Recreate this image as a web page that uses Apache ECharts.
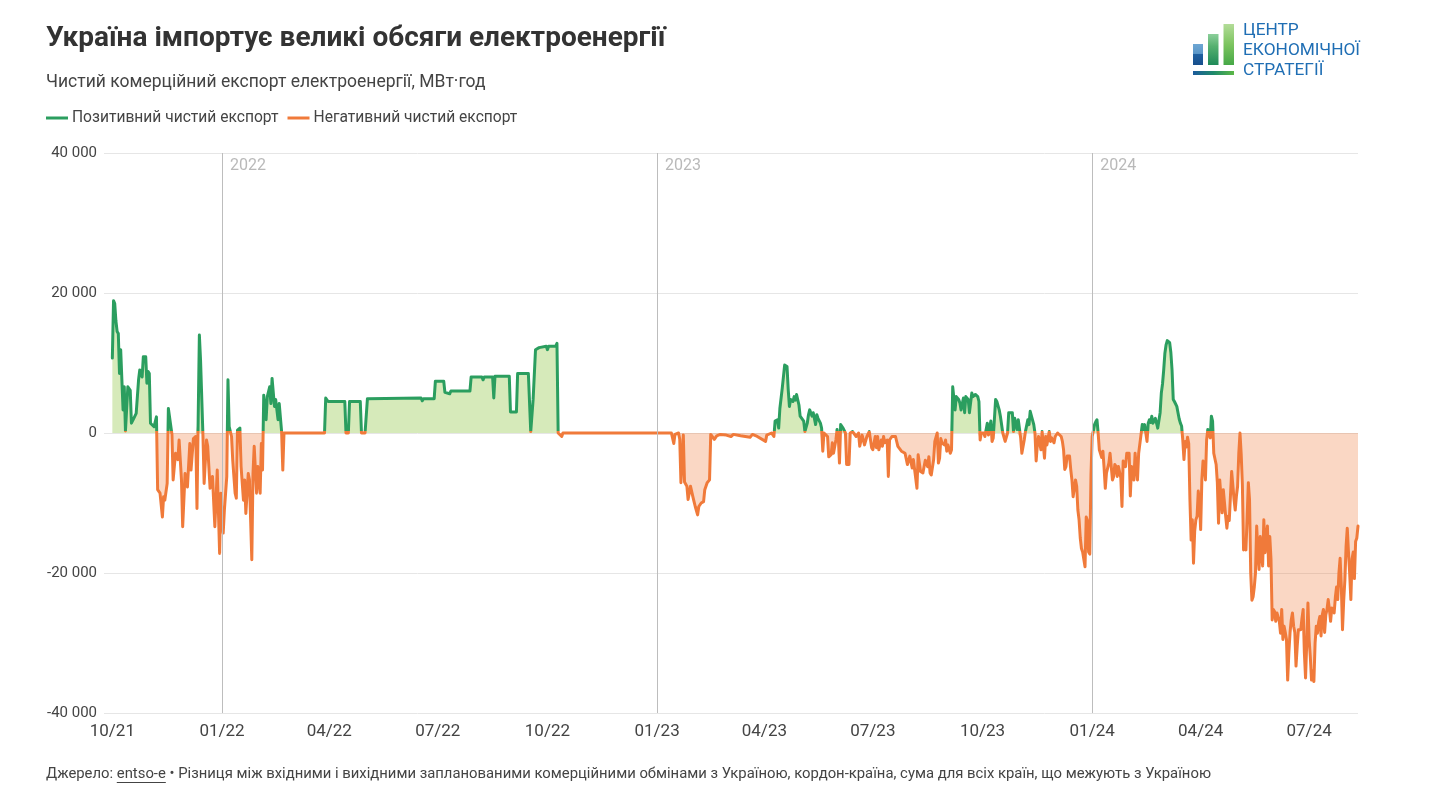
<!DOCTYPE html>
<html><head><meta charset="utf-8">
<script src="https://cdn.jsdelivr.net/npm/echarts@6/dist/echarts.min.js"></script>
<style>html,body{margin:0;padding:0;background:#fff}#chart{width:1430px;height:797px}</style>
</head><body><div id="chart"></div>
<script>
// ---- DATA: daily net commercial export of electricity, MWh ----
const net2021 = [['2021-10-01',10700],['2021-10-02',18900],['2021-10-03',18500],['2021-10-04',16000],['2021-10-05',14500],['2021-10-06',14200],['2021-10-07',8500],['2021-10-08',11900],['2021-10-09',11800],['2021-10-10',3300],['2021-10-11',6600],['2021-10-12',300],['2021-10-14',6600],['2021-10-16',6100],['2021-10-17',1400],['2021-10-19',2100],['2021-10-21',2800],['2021-10-23',7600],['2021-10-24',9000],['2021-10-26',8000],['2021-10-27',10900],['2021-10-29',10900],['2021-10-30',7100],['2021-10-31',8800],['2021-11-01',8500],['2021-11-02',1400],['2021-11-05',900],['2021-11-07',2300],['2021-11-08',-8100],['2021-11-10',-8600],['2021-11-12',-12000],['2021-11-13',-9100],['2021-11-14',-9600],['2021-11-16',-7200],['2021-11-17',3500],['2021-11-18',3300],['2021-11-20',-200],['2021-11-21',-6700],['2021-11-23',-2900],['2021-11-25',-3800],['2021-11-26',-1000],['2021-11-28',-6700],['2021-11-29',-13400],['2021-12-01',-5800],['2021-12-03',-7700],['2021-12-05',-1500],['2021-12-06',-5300],['2021-12-08',-800],['2021-12-10',-500],['2021-12-11',-10800],['2021-12-12',1900],['2021-12-13',14000],['2021-12-14',10400],['2021-12-16',-300],['2021-12-17',-7200],['2021-12-19',-1000],['2021-12-20',-1900],['2021-12-22',-7900],['2021-12-24',-6200],['2021-12-26',-13400],['2021-12-28',-5300],['2021-12-30',-17200],['2021-12-31',-8600]];
const net2022 = [['2022-01-02',-14300],['2022-01-03',-11000],['2022-01-05',-6200],['2022-01-06',7600],['2022-01-07',900],['2022-01-09',-500],['2022-01-10',-3900],['2022-01-12',-8600],['2022-01-13',-9300],['2022-01-14',400],['2022-01-16',700],['2022-01-17',-4800],['2022-01-19',-9600],['2022-01-20',-6700],['2022-01-21',-11500],['2022-01-23',-5800],['2022-01-24',-6700],['2022-01-26',-18100],['2022-01-27',-5800],['2022-01-28',-1900],['2022-01-30',-8600],['2022-01-31',-4800],['2022-02-02',-8600],['2022-02-03',-1500],['2022-02-04',-5300],['2022-02-05',5400],['2022-02-07',1900],['2022-02-08',5200],['2022-02-10',6600],['2022-02-11',4200],['2022-02-12',7800],['2022-02-14',3800],['2022-02-15',4800],['2022-02-17',1900],['2022-02-18',4200],['2022-02-20',200],['2022-02-21',-5300],['2022-02-22',0],['2022-03-28',0],['2022-03-29',5000],['2022-03-30',5200],['2022-03-31',4500],['2022-04-14',4500],['2022-04-15',0],['2022-04-17',0],['2022-04-18',4500],['2022-04-27',4500],['2022-04-28',0],['2022-05-01',0],['2022-05-03',4900],['2022-05-04',5000],['2022-06-17',5000],['2022-06-18',4600],['2022-06-19',4900],['2022-06-28',4900],['2022-06-29',7400],['2022-07-06',7400],['2022-07-07',5800],['2022-07-11',5600],['2022-07-12',6000],['2022-07-28',6000],['2022-07-29',8000],['2022-08-07',8000],['2022-08-08',7600],['2022-08-09',8000],['2022-08-16',8000],['2022-08-17',5000],['2022-08-18',8100],['2022-08-30',8100],['2022-08-31',3000],['2022-09-05',3000],['2022-09-06',8500],['2022-09-15',8500],['2022-09-17',200],['2022-09-19',4800],['2022-09-21',11900],['2022-09-24',12200],['2022-09-30',12400],['2022-10-01',11900],['2022-10-02',12400],['2022-10-08',12400],['2022-10-09',12800],['2022-10-10',0],['2022-10-13',-500],['2022-10-14',0],['2022-12-31',0]];
const net2023 = [['2023-01-13',0],['2023-01-15',-1500],['2023-01-16',-200],['2023-01-19',0],['2023-01-20',-900],['2023-01-21',-7100],['2023-01-22',-6900],['2023-01-23',-300],['2023-01-24',-7000],['2023-01-26',-7600],['2023-01-27',-9500],['2023-01-29',-7600],['2023-01-31',-9100],['2023-02-01',-9800],['2023-02-02',-10500],['2023-02-04',-11700],['2023-02-05',-10500],['2023-02-07',-10000],['2023-02-09',-9800],['2023-02-10',-8100],['2023-02-12',-7100],['2023-02-14',-6700],['2023-02-15',-200],['2023-02-18',-900],['2023-02-20',-400],['2023-02-23',-200],['2023-02-28',-300],['2023-03-04',-500],['2023-03-06',-200],['2023-03-12',-400],['2023-03-20',-600],['2023-03-22',-200],['2023-03-25',-400],['2023-04-02',-1200],['2023-04-03',-300],['2023-04-07',0],['2023-04-09',-500],['2023-04-10',1700],['2023-04-12',1900],['2023-04-13',700],['2023-04-14',3500],['2023-04-16',6400],['2023-04-17',6200],['2023-04-18',9700],['2023-04-20',9500],['2023-04-21',6200],['2023-04-22',3800],['2023-04-23',4800],['2023-04-25',4500],['2023-04-26',5200],['2023-04-27',4700],['2023-04-28',5500],['2023-04-30',4000],['2023-05-01',2400],['2023-05-02',2600],['2023-05-04',1700],['2023-05-05',200],['2023-05-07',1400],['2023-05-08',2600],['2023-05-09',3300],['2023-05-11',2400],['2023-05-12',2900],['2023-05-14',1200],['2023-05-15',2600],['2023-05-16',2100],['2023-05-18',1400],['2023-05-19',700],['2023-05-20',-2600],['2023-05-21',0],['2023-05-24',-500],['2023-05-25',-3400],['2023-05-27',-3100],['2023-05-28',-1400],['2023-05-29',-2900],['2023-05-31',-1000],['2023-06-01',500],['2023-06-02',-500],['2023-06-03',-4300],['2023-06-04',1200],['2023-06-06',700],['2023-06-08',0],['2023-06-09',-4500],['2023-06-11',-4500],['2023-06-12',0],['2023-06-14',200],['2023-06-17',-500],['2023-06-19',0],['2023-06-20',-1900],['2023-06-22',-300],['2023-06-24',-1700],['2023-06-26',-500],['2023-06-28',200],['2023-06-30',-2100],['2023-07-01',-2400],['2023-07-03',-500],['2023-07-04',-2100],['2023-07-05',-500],['2023-07-06',-2400],['2023-07-08',-1000],['2023-07-09',-1900],['2023-07-10',-500],['2023-07-11',-1400],['2023-07-13',-1000],['2023-07-14',-6200],['2023-07-15',-1000],['2023-07-17',-500],['2023-07-20',-500],['2023-07-22',-1900],['2023-07-23',-1900],['2023-07-25',-2600],['2023-07-26',-2400],['2023-07-28',-2900],['2023-07-29',-3100],['2023-07-30',-4500],['2023-08-01',-3300],['2023-08-02',-3100],['2023-08-03',-5000],['2023-08-04',-3800],['2023-08-05',-3600],['2023-08-07',-7900],['2023-08-08',-3100],['2023-08-10',-5500],['2023-08-12',-5700],['2023-08-14',-3900],['2023-08-16',-4800],['2023-08-17',-3400],['2023-08-18',-5700],['2023-08-19',-6000],['2023-08-21',-3800],['2023-08-22',-1200],['2023-08-24',0],['2023-08-25',-4300],['2023-08-26',-3600],['2023-08-27',-800],['2023-08-28',-1400],['2023-08-30',-1700],['2023-08-31',-1000],['2023-09-01',-2600],['2023-09-02',-1700],['2023-09-04',-2900],['2023-09-05',-2400],['2023-09-06',6600],['2023-09-07',6400],['2023-09-08',3300],['2023-09-09',5200],['2023-09-11',4800],['2023-09-12',4300],['2023-09-13',3300],['2023-09-15',5000],['2023-09-16',2900],['2023-09-17',5200],['2023-09-19',4800],['2023-09-20',2900],['2023-09-22',5700],['2023-09-23',5200],['2023-09-25',5500],['2023-09-26',5500],['2023-09-27',5200],['2023-09-28',4500],['2023-09-29',-1000],['2023-09-30',0],['2023-10-02',0],['2023-10-03',-500],['2023-10-05',1400],['2023-10-06',-300],['2023-10-08',1700],['2023-10-09',-1200],['2023-10-10',-700],['2023-10-12',4800],['2023-10-13',4500],['2023-10-15',3300],['2023-10-16',2400],['2023-10-18',0],['2023-10-19',200],['2023-10-20',-1200],['2023-10-22',0],['2023-10-23',2900],['2023-10-24',3100],['2023-10-26',2900],['2023-10-27',200],['2023-10-28',2100],['2023-10-30',500],['2023-10-31',1900],['2023-11-02',-700],['2023-11-03',-2900],['2023-11-05',-1000],['2023-11-06',200],['2023-11-08',1900],['2023-11-09',1200],['2023-11-10',3100],['2023-11-11',3300],['2023-11-13',1200],['2023-11-14',0],['2023-11-15',-4000],['2023-11-16',-1700],['2023-11-17',-500],['2023-11-19',-2400],['2023-11-20',200],['2023-11-22',-3600],['2023-11-23',-500],['2023-11-24',-1700],['2023-11-26',200],['2023-11-27',-1200],['2023-11-28',-700],['2023-11-30',-1400],['2023-12-01',-500],['2023-12-03',0],['2023-12-04',-200],['2023-12-06',-500],['2023-12-07',-1200],['2023-12-08',-2400],['2023-12-09',-5200],['2023-12-10',-4800],['2023-12-11',-3300],['2023-12-13',-3300],['2023-12-14',-5200],['2023-12-15',-6700],['2023-12-16',-9100],['2023-12-17',-9300],['2023-12-18',-6700],['2023-12-19',-7600],['2023-12-20',-11000],['2023-12-21',-12400],['2023-12-22',-15000],['2023-12-23',-16500],['2023-12-24',-17000],['2023-12-25',-17200],['2023-12-26',-19100],['2023-12-27',-12000],['2023-12-28',-12500],['2023-12-29',-17000],['2023-12-30',-17300],['2023-12-31',-6000]];
const net2024 = [['2024-01-01',-500],['2024-01-02',300],['2024-01-03',1200],['2024-01-04',1600],['2024-01-05',1900],['2024-01-06',0],['2024-01-07',-2400],['2024-01-08',-2200],['2024-01-09',-3500],['2024-01-10',-2600],['2024-01-11',-5000],['2024-01-12',-7900],['2024-01-13',-5700],['2024-01-15',-4300],['2024-01-16',-2900],['2024-01-18',-6700],['2024-01-19',-6200],['2024-01-20',-4500],['2024-01-21',-4800],['2024-01-22',-6200],['2024-01-23',-4800],['2024-01-25',-6400],['2024-01-26',-10500],['2024-01-27',-4000],['2024-01-28',-3800],['2024-01-29',-4800],['2024-01-30',-2900],['2024-02-01',-2900],['2024-02-02',-9000],['2024-02-03',-4800],['2024-02-04',-5000],['2024-02-05',-6700],['2024-02-06',-2900],['2024-02-08',-6700],['2024-02-09',-2900],['2024-02-11',-200],['2024-02-12',1200],['2024-02-13',500],['2024-02-14',1200],['2024-02-15',0],['2024-02-16',-1200],['2024-02-17',1400],['2024-02-18',1900],['2024-02-19',1500],['2024-02-20',2400],['2024-02-21',1400],['2024-02-23',2100],['2024-02-24',1400],['2024-02-25',700],['2024-02-27',2900],['2024-02-28',5700],['2024-02-29',7000],['2024-03-01',9000],['2024-03-02',11400],['2024-03-03',12600],['2024-03-04',13200],['2024-03-05',13400],['2024-03-06',12900],['2024-03-07',11500],['2024-03-08',9000],['2024-03-09',4800],['2024-03-10',4500],['2024-03-11',4300],['2024-03-12',3800],['2024-03-13',2900],['2024-03-14',2000],['2024-03-15',1400],['2024-03-16',1000],['2024-03-17',-1000],['2024-03-18',-3800],['2024-03-19',-1200],['2024-03-20',-2000],['2024-03-21',-600],['2024-03-22',-1500],['2024-03-23',-9500],['2024-03-24',-15300],['2024-03-25',-12400],['2024-03-26',-18600],['2024-03-27',-14000],['2024-03-28',-12400],['2024-03-29',-11900],['2024-03-30',-8300],['2024-03-31',-10000],['2024-04-01',-13800],['2024-04-02',-6700],['2024-04-03',-4000],['2024-04-04',-4500],['2024-04-05',-6700],['2024-04-06',-1000],['2024-04-07',500],['2024-04-08',700],['2024-04-09',-700],['2024-04-10',2400],['2024-04-11',1700],['2024-04-12',-2900],['2024-04-13',-2900],['2024-04-14',-4500],['2024-04-15',-7100],['2024-04-16',-12900],['2024-04-17',-6700],['2024-04-18',-9000],['2024-04-19',-11400],['2024-04-20',-8100],['2024-04-21',-10000],['2024-04-22',-11900],['2024-04-23',-13600],['2024-04-24',-11900],['2024-04-25',-12500],['2024-04-26',-12400],['2024-04-27',-5500],['2024-04-28',-7500],['2024-04-29',-9500],['2024-04-30',-11000],['2024-05-01',-9000],['2024-05-02',-7600],['2024-05-03',-2900],['2024-05-04',0],['2024-05-05',-3000],['2024-05-06',-7400],['2024-05-07',-16700],['2024-05-08',-16000],['2024-05-09',-16700],['2024-05-10',-12000],['2024-05-11',-7100],['2024-05-12',-9500],['2024-05-13',-20000],['2024-05-14',-23900],['2024-05-15',-23400],['2024-05-16',-22000],['2024-05-17',-20000],['2024-05-18',-13300],['2024-05-19',-17000],['2024-05-20',-19500],['2024-05-21',-14800],['2024-05-22',-17000],['2024-05-23',-19000],['2024-05-24',-12400],['2024-05-25',-17100],['2024-05-26',-15000],['2024-05-27',-13300],['2024-05-28',-19000],['2024-05-29',-14800],['2024-05-30',-18000],['2024-05-31',-26700],['2024-06-01',-25200],['2024-06-02',-25500],['2024-06-03',-26900],['2024-06-04',-25700],['2024-06-05',-25500],['2024-06-06',-26900],['2024-06-07',-28600],['2024-06-08',-25200],['2024-06-09',-29500],['2024-06-10',-27600],['2024-06-11',-28500],['2024-06-12',-29500],['2024-06-13',-35300],['2024-06-14',-31400],['2024-06-15',-28500],['2024-06-16',-26700],['2024-06-17',-25700],['2024-06-18',-27600],['2024-06-19',-28500],['2024-06-20',-33300],['2024-06-21',-30500],['2024-06-22',-28100],['2024-06-23',-28100],['2024-06-24',-28100],['2024-06-25',-26500],['2024-06-26',-25200],['2024-06-27',-31400],['2024-06-28',-35000],['2024-06-29',-30000],['2024-06-30',-24300],['2024-07-01',-29500],['2024-07-02',-32000],['2024-07-03',-35300],['2024-07-04',-34000],['2024-07-05',-35500],['2024-07-06',-30000],['2024-07-07',-27600],['2024-07-08',-28600],['2024-07-09',-27000],['2024-07-10',-26200],['2024-07-11',-29000],['2024-07-12',-26000],['2024-07-13',-25200],['2024-07-14',-28500],['2024-07-15',-26000],['2024-07-16',-25200],['2024-07-17',-23800],['2024-07-18',-25200],['2024-07-19',-26900],['2024-07-20',-25000],['2024-07-21',-24800],['2024-07-22',-25700],['2024-07-23',-23500],['2024-07-24',-22000],['2024-07-25',-23800],['2024-07-26',-20000],['2024-07-27',-17900],['2024-07-28',-21900],['2024-07-29',-28100],['2024-07-30',-24000],['2024-07-31',-21000],['2024-08-01',-16200],['2024-08-02',-13600],['2024-08-03',-17000],['2024-08-04',-20000],['2024-08-05',-23800],['2024-08-06',-18000],['2024-08-07',-17000],['2024-08-08',-20800],['2024-08-09',-15500],['2024-08-10',-15000],['2024-08-11',-13300]];

const yearStarts = ['2022-01-01', '2023-01-01', '2024-01-01'];
const yearLabels = ['2022', '2023', '2024'];
const quarterTicks = ['2021-10-01','2022-01-01','2022-04-01','2022-07-01','2022-10-01','2023-01-01','2023-04-01','2023-07-01','2023-10-01','2024-01-01','2024-04-01','2024-07-01'];
const axisStart = '2021-09-24';
const yMin = -40000, yMax = 40000, yStep = 20000;
const colourSplit = 300; // values above this are drawn as positive (green)
const seriesNames = ['Позитивний чистий експорт', 'Негативний чистий експорт'];

// ---- STYLE ----
const GREEN = '#2b9e5f', ORANGE = '#f07a3a';
const GREEN_FILL = 'rgba(141,198,65,0.36)', ORANGE_FILL = 'rgba(240,122,58,0.3)';
const FONT = 'Roboto, "Noto Sans", sans-serif';
const GRID = { left: 104, right: 72, top: 153, bottom: 84 };
const H = 797;

const parse = s => { const [y, m, d] = s.split('-').map(Number); return new Date(y, m - 1, d).getTime(); };
const net = [].concat(net2021, net2022, net2023, net2024).map(([d, v]) => [parse(d), v]);
const pos = net.map(([t, v]) => [t, Math.max(v, 0)]);
const neg = net.map(([t, v]) => [t, Math.min(v, 0)]);
const fmtY = v => (v < 0 ? '-' : '') + String(Math.abs(v)).replace(/\B(?=(\d{3})+(?!\d))/g, ' ');
const fmtX = v => { const d = new Date(v); return String(d.getMonth() + 1).padStart(2, '0') + '/' + String(d.getFullYear() % 100).padStart(2, '0'); };

const split = (yMax - colourSplit) / (yMax - yMin);
const lineGradient = new echarts.graphic.LinearGradient(0, GRID.top, 0, H - GRID.bottom, [
  { offset: 0, color: GREEN }, { offset: split, color: GREEN },
  { offset: split, color: ORANGE }, { offset: 1, color: ORANGE }], true);

const chart = echarts.init(document.getElementById('chart'), null, { renderer: 'canvas' });

const ctx = document.createElement('canvas').getContext('2d');
const footFont = '14.85px ' + FONT;
ctx.font = footFont;
const srcA = 'Джерело: ', srcB = 'entso-e', srcC = ' • Різниця між вхідними і вихідними запланованими комерційними обмінами з Україною, кордон-країна, сума для всіх країн, що межують з Україною';
const wA = ctx.measureText(srcA).width, wB = ctx.measureText(srcB).width;
const FOOT_Y = 774, FOOT_X = 46;
const logoFont = '17.3px ' + FONT;

const option = {
  animation: false,
  backgroundColor: '#fff',
  textStyle: { fontFamily: FONT },
  grid: GRID,
  legend: {
    data: seriesNames, left: 46, top: 110, padding: 0, icon: 'rect', itemWidth: 22, itemHeight: 3, itemGap: 9,
    selectedMode: false, textStyle: { fontSize: 15.6, color: '#444', fontFamily: FONT, padding: [0, 0, 0, -1] }
  },
  xAxis: {
    type: 'value', min: parse(axisStart), max: net[net.length - 1][0],
    axisLine: { show: false }, axisTick: { show: false }, splitLine: { show: false },
    axisLabel: { customValues: quarterTicks.map(parse), formatter: fmtX, fontSize: 17, color: '#444', margin: 10, hideOverlap: false }
  },
  yAxis: {
    type: 'value', min: yMin, max: yMax, interval: yStep,
    axisLine: { show: false }, axisTick: { show: false },
    splitLine: { lineStyle: { color: '#e6e6e6', width: 1 } },
    axisLabel: { formatter: fmtY, fontSize: 15, color: '#444', margin: 7 }
  },
  series: [
    { name: seriesNames[0], type: 'line', data: pos, showSymbol: false, symbol: 'none', z: 1,
      itemStyle: { color: GREEN }, lineStyle: { width: 0, opacity: 0 }, areaStyle: { color: GREEN_FILL, opacity: 1 },
      markLine: { silent: true, symbol: ['none', 'none'], label: { show: false },
        lineStyle: { color: '#bdbdbd', type: 'solid', width: 1 },
        data: yearStarts.map(d => ({ xAxis: parse(d) })) } },
    { name: seriesNames[1], type: 'line', data: neg, showSymbol: false, symbol: 'none', z: 1,
      itemStyle: { color: ORANGE }, lineStyle: { width: 0, opacity: 0 }, areaStyle: { color: ORANGE_FILL, opacity: 1 } },
    { name: 'net', type: 'line', data: net, showSymbol: false, symbol: 'none', z: 3,
      lineStyle: { width: 3, color: lineGradient, join: 'round', cap: 'round' } },
    { name: 'years', type: 'scatter', silent: true, symbolSize: 0, z: 4, clip: false,
      data: yearStarts.map((d, i) => [parse(d), yMax, yearLabels[i]]),
      label: { show: true, formatter: p => p.data[2], position: [8, 5], color: '#a8a8a8', fontSize: 16, fontFamily: FONT } }
  ],
  graphic: [
    { type: 'text', x: 46, y: 39, style: { text: 'Україна імпортує великі обсяги електроенергії', font: 'bold 28px ' + FONT, fill: '#333', textVerticalAlign: 'middle' } },
    { type: 'text', x: 46, y: 83, style: { text: 'Чистий комерційний експорт електроенергії, МВт·год', font: '17.5px ' + FONT, fill: '#444', textVerticalAlign: 'middle' } },
    { type: 'text', x: FOOT_X, y: FOOT_Y, style: { text: srcA, font: footFont, fill: '#444', textVerticalAlign: 'middle' } },
    { type: 'text', x: FOOT_X + wA, y: FOOT_Y, style: { text: srcB, font: footFont, fill: '#444', textVerticalAlign: 'middle' } },
    { type: 'line', shape: { x1: FOOT_X + wA, y1: FOOT_Y + 8.5, x2: FOOT_X + wA + wB, y2: FOOT_Y + 8.5 }, style: { stroke: '#444', lineWidth: 1 } },
    { type: 'text', x: FOOT_X + wA + wB, y: FOOT_Y, style: { text: srcC, font: footFont, fill: '#444', textVerticalAlign: 'middle' } },
    { type: 'rect', shape: { x: 1193, y: 44, width: 10, height: 21 },
      style: { fill: new echarts.graphic.LinearGradient(0, 0, 0, 1, [{ offset: 0, color: '#6ea6d3' }, { offset: 0.45, color: '#5b97c8' }, { offset: 0.5, color: '#1f5f9f' }, { offset: 1, color: '#174f8c' }]) } },
    { type: 'rect', shape: { x: 1208, y: 34, width: 10.5, height: 31 },
      style: { fill: new echarts.graphic.LinearGradient(0, 0, 0, 1, [{ offset: 0, color: '#8ccf9a' }, { offset: 0.4, color: '#55b06f' }, { offset: 1, color: '#1f8a58' }]) } },
    { type: 'rect', shape: { x: 1223.5, y: 24, width: 10.5, height: 41 },
      style: { fill: new echarts.graphic.LinearGradient(0, 0, 0, 1, [{ offset: 0, color: '#b3dc98' }, { offset: 0.5, color: '#7cc45f' }, { offset: 1, color: '#46a847' }]) } },
    { type: 'rect', shape: { x: 1193, y: 71, width: 41, height: 4 },
      style: { fill: new echarts.graphic.LinearGradient(0, 0, 1, 0, [{ offset: 0, color: '#1b5a9c' }, { offset: 0.5, color: '#1e8a6a' }, { offset: 1, color: '#5cb845' }]) } },
    { type: 'text', x: 1243, y: 31, style: { text: 'ЦЕНТР', font: logoFont, fill: '#1f6eb4', textVerticalAlign: 'middle' } },
    { type: 'text', x: 1243, y: 51, style: { text: 'ЕКОНОМІЧНОЇ', font: logoFont, fill: '#1f6eb4', textVerticalAlign: 'middle' } },
    { type: 'text', x: 1243, y: 71, style: { text: 'СТРАТЕГІЇ', font: logoFont, fill: '#1f6eb4', textVerticalAlign: 'middle' } }
  ]
};
chart.setOption(option);
</script>
</body></html>
